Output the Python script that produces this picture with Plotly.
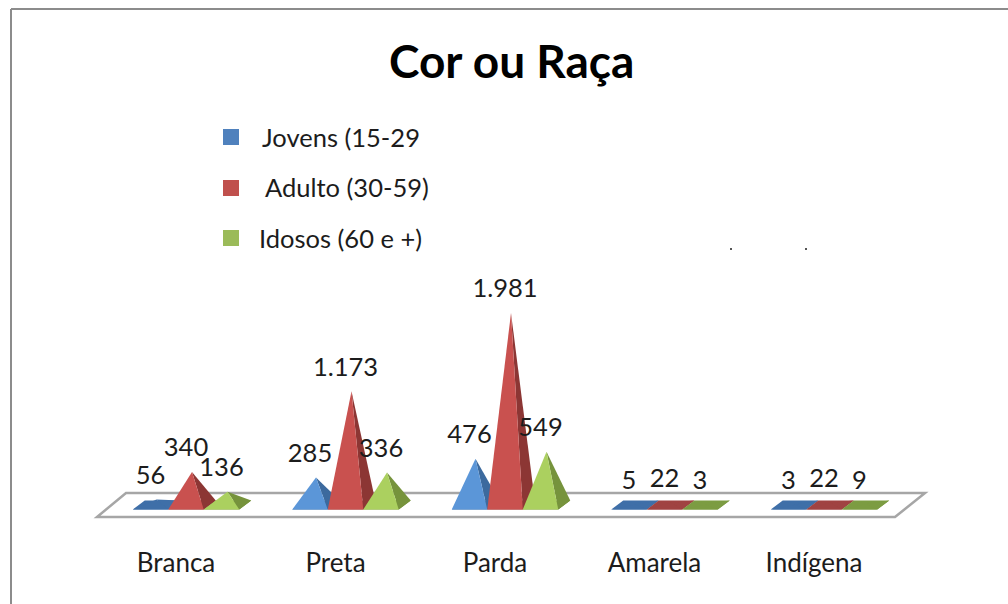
import plotly.graph_objects as go

categories = ["Branca", "Preta", "Parda", "Amarela", "Indígena"]
jovens = [56, 285, 476, 5, 3]
adulto = [340, 1173, 1981, 22, 22]
idosos = [136, 336, 549, 3, 9]
jovens_labels = ["56", "285", "476", "5", "3"]
adulto_labels = ["340", "1.173", "1.981", "22", "22"]
idosos_labels = ["136", "336", "549", "3", "9"]
series_names = ["Jovens (15-29", "Adulto (30-59)", "Idosos (60 e +)"]

W, H = 1008, 604
BOTTOM = 59
PLOT_H = H - BOTTOM
CAT_PX = 159.5           # pixels per category
CAT2_PX = 495            # pixel of third category label
BASE_PX = 505            # pixel of value 0
VAL_PX = 192 / 1981      # pixels per unit

x_min = (0 - CAT2_PX) / CAT_PX + 2
x_max = (W - CAT2_PX) / CAT_PX + 2
y_max = BASE_PX / VAL_PX
y_min = -(PLOT_H - BASE_PX) / VAL_PX

SHIFT = 10 / CAT_PX       # projection shift of the pyramids from the label
WIDTH = 35.5 / CAT_PX     # pyramid width
DX = 12 / CAT_PX          # depth, horizontal
DY = 9 / VAL_PX           # depth, vertical
LABEL_GAP = 22 / VAL_PX
FLAT_BELOW = 100

front_colors = ["#5b96d8", "#c9514f", "#abd05f"]
side_colors = ["#3c6a9e", "#8c3634", "#76933c"]
flat_colors = ["#3f6fa8", "#a04342", "#7c9c42"]
legend_colors = ["#4f81bd", "#c0504d", "#9bbb59"]
TEXT = "#1c1c1c"
FONT = "Lato"


def poly(x, y, color):
    return go.Scatter(x=x, y=y, mode="lines", fill="toself", fillcolor=color,
                      line=dict(width=0, color=color), hoverinfo="skip", showlegend=False)


fig = go.Figure()
all_series = [jovens, adulto, idosos]
all_labels = [jovens_labels, adulto_labels, idosos_labels]

for i in range(len(categories)):
    for s, values in enumerate(all_series):
        v = values[i]
        x0 = i + SHIFT + (s - 1.5) * WIDTH
        x1 = x0 + WIDTH
        front = -DY / 2
        back = DY / 2
        ax = (x0 + x1) / 2 + DX / 2
        flat = v < FLAT_BELOW
        fc = flat_colors[s] if flat else front_colors[s]
        sc = flat_colors[s] if flat else side_colors[s]
        # footprint, right face, front face
        fig.add_trace(poly([x0, x1, x1 + DX, x0 + DX, x0], [front, front, back, back, front], sc))
        fig.add_trace(poly([x1, x1 + DX, ax, x1], [front, back, v, front], sc))
        fig.add_trace(poly([x0, x1, ax, x0], [front, front, v, front], fc))

for s, values in enumerate(all_series):
    xs = [i + SHIFT + (s - 1) * WIDTH for i in range(len(categories))]
    ys = [v + LABEL_GAP for v in values]
    fig.add_trace(go.Scatter(x=xs, y=ys, mode="text", text=all_labels[s],
                             textposition="middle center", name=series_names[s],
                             textfont=dict(family=FONT, size=25.5, color=TEXT),
                             hoverinfo="skip", showlegend=False))


def px(x):
    return x / W


def py(y):
    return (PLOT_H - y) / PLOT_H


def line(x0, y0, x1, y1, color, width):
    return dict(type="line", xref="paper", yref="paper", x0=px(x0), y0=py(y0),
                x1=px(x1), y1=py(y1), line=dict(color=color, width=width), layer="below")


shapes = [
    line(11, 9, W, 9, "#8c8c8c", 2),
    line(11, 9, 11, H, "#8c8c8c", 2),
    dict(type="path", xref="paper", yref="paper", layer="below",
         path=f"M {px(97)} {py(517)} L {px(895)} {py(517)} L {px(925)} {py(493)} L {px(126)} {py(493)} Z",
         line=dict(color="#a6a6a6", width=2.5), fillcolor="white"),
]
for (sx, sy), c in zip([(223, 129), (223, 180), (223, 230)], legend_colors):
    shapes.append(dict(type="rect", xref="paper", yref="paper", x0=px(sx), x1=px(sx + 16),
                       y0=py(sy), y1=py(sy + 16), fillcolor=c, line=dict(width=0), layer="below"))
for dx_ in (731, 806):
    shapes.append(dict(type="rect", xref="paper", yref="paper", x0=px(dx_ - 1), x1=px(dx_ + 1),
                       y0=py(248), y1=py(250), fillcolor="#555555", line=dict(width=0), layer="below"))

annotations = []
for name, x, y in zip(series_names, [260, 263, 257], [137, 187, 238]):
    annotations.append(dict(text=name, xref="paper", yref="paper", x=px(x), y=py(y),
                            xanchor="left", yanchor="middle", showarrow=False,
                            font=dict(family=FONT, size=25.5, color=TEXT)))
annotations.append(dict(text="<b>Cor ou Raça</b>", xref="paper", yref="paper", x=px(511), y=py(61),
                        xanchor="center", yanchor="middle", showarrow=False,
                        font=dict(family=FONT, size=46, color="#000000")))

fig.update_layout(
    width=W, height=H, margin=dict(l=0, r=0, t=0, b=BOTTOM),
    paper_bgcolor="white", plot_bgcolor="white", showlegend=False,
    shapes=shapes, annotations=annotations,
    xaxis=dict(range=[x_min, x_max], tickvals=list(range(len(categories))), ticktext=categories,
               showgrid=False, zeroline=False, showline=False, ticks="",
               tickfont=dict(family=FONT, size=26, color=TEXT), fixedrange=True),
    yaxis=dict(range=[y_min, y_max], visible=False, fixedrange=True),
)

fig.write_html("out.html", config=dict(displayModeBar=False),
               post_script="document.body.style.margin='0';")
